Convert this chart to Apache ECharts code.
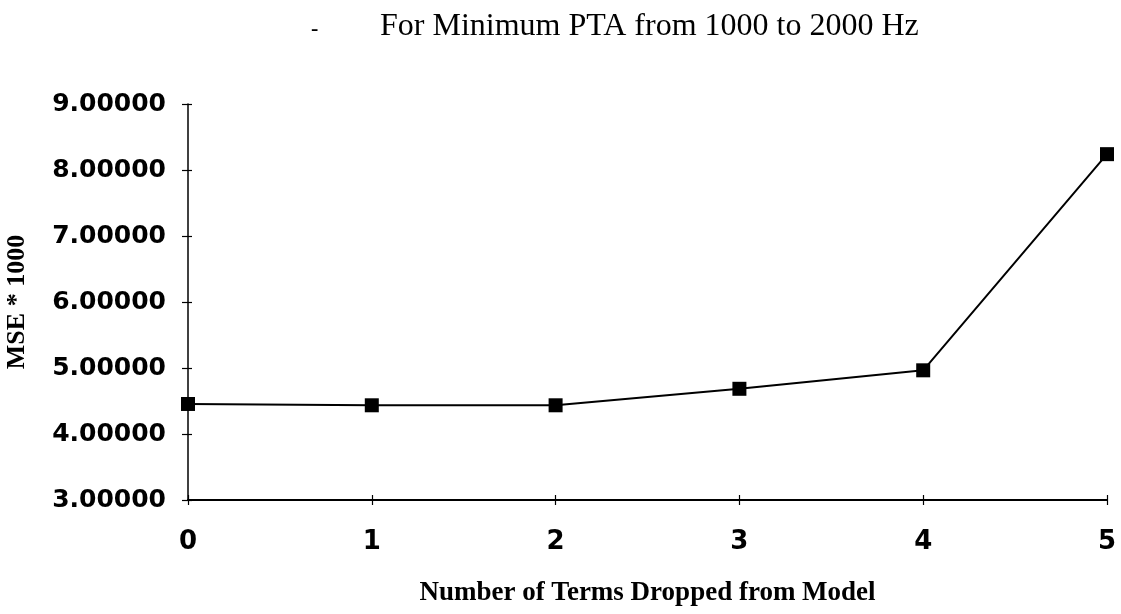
<!DOCTYPE html>
<html>
<head>
<meta charset="utf-8">
<script src="https://cdn.jsdelivr.net/npm/echarts@6/dist/echarts.min.js"></script>
<style>
  html, body { margin: 0; padding: 0; background: #fff; }
  #chart { width: 1121px; height: 614px; }
</style>
</head>
<body>
<div id="chart"></div>
<script>
// Terms dropped from the model and the resulting MSE (x1000)
const termsDropped = [0, 1, 2, 3, 4, 5];
const mseTimes1000 = [4.455, 4.435, 4.435, 4.685, 4.965, 8.24];
const yTicks = { min: 3, max: 9, step: 1 };

const titleText = 'For Minimum PTA from 1000 to 2000 Hz';
const xName = 'Number of Terms Dropped from Model';
const yName = 'MSE * 1000';

const tickLabelFont = { color: '#000', fontFamily: 'DejaVu Sans', fontWeight: 'bold' };
const serifBold = { color: '#000', fontFamily: 'Liberation Serif', fontWeight: 'bold' };

const chart = echarts.init(document.getElementById('chart'), null, { renderer: 'canvas' });

const baseX = {
  type: 'value', min: 0, max: 5, interval: 1,
  splitLine: { show: false }
};
const baseY = {
  type: 'value', min: yTicks.min, max: yTicks.max, interval: yTicks.step,
  splitLine: { show: false }
};

chart.setOption({
  backgroundColor: '#fff',
  animation: false,
  title: [
    {
      text: titleText, left: 375, top: 6,
      textStyle: { color: '#000', fontFamily: 'Liberation Serif', fontWeight: 'normal', fontSize: 32 }
    },
    {
      text: '-', left: 306, top: 13,
      textStyle: { color: '#000', fontFamily: 'Liberation Serif', fontWeight: 'bold', fontSize: 22 }
    }
  ],
  grid: {
    left: 188, right: 14, top: 104, bottom: 114,
    containLabel: false, outerBoundsMode: 'none'
  },
  xAxis: [
    Object.assign({}, baseX, {
      position: 'bottom',
      name: xName, nameLocation: 'middle', nameGap: 80,
      nameTextStyle: Object.assign({}, serifBold, { fontSize: 27 }),
      axisLine: { show: true, onZero: false, lineStyle: { color: '#000', width: 2 } },
      axisTick: { show: true, inside: false, length: 5, lineStyle: { color: '#000', width: 1.2 } },
      axisLabel: Object.assign({}, tickLabelFont, { fontSize: 26, margin: 29 })
    }),
    Object.assign({}, baseX, {
      position: 'bottom',
      axisLine: { show: false, onZero: false },
      axisTick: { show: true, inside: true, length: 5, lineStyle: { color: '#000', width: 1.2 } },
      axisLabel: { show: false }
    })
  ],
  yAxis: [
    Object.assign({}, baseY, {
      position: 'left',
      name: yName, nameLocation: 'middle', nameGap: 158, nameRotate: 90,
      nameTextStyle: Object.assign({}, serifBold, { fontSize: 26 }),
      axisLine: { show: true, onZero: false, lineStyle: { color: '#000', width: 1.5 } },
      axisTick: { show: true, inside: false, length: 6, lineStyle: { color: '#000', width: 1.2 } },
      axisLabel: Object.assign({}, tickLabelFont, {
        fontSize: 25,
        margin: 22,
        formatter: v => v.toFixed(5)
      })
    }),
    Object.assign({}, baseY, {
      position: 'left',
      axisLine: { show: false, onZero: false },
      axisTick: { show: true, inside: true, length: 4, lineStyle: { color: '#000', width: 1.2 } },
      axisLabel: { show: false }
    })
  ],
  series: [
    {
      type: 'line',
      xAxisIndex: 0, yAxisIndex: 0,
      data: termsDropped.map((t, i) => [t, mseTimes1000[i]]),
      symbol: 'rect', symbolSize: 14,
      itemStyle: { color: '#000' },
      lineStyle: { color: '#000', width: 2 },
      clip: false
    }
  ]
});
</script>
</body>
</html>
